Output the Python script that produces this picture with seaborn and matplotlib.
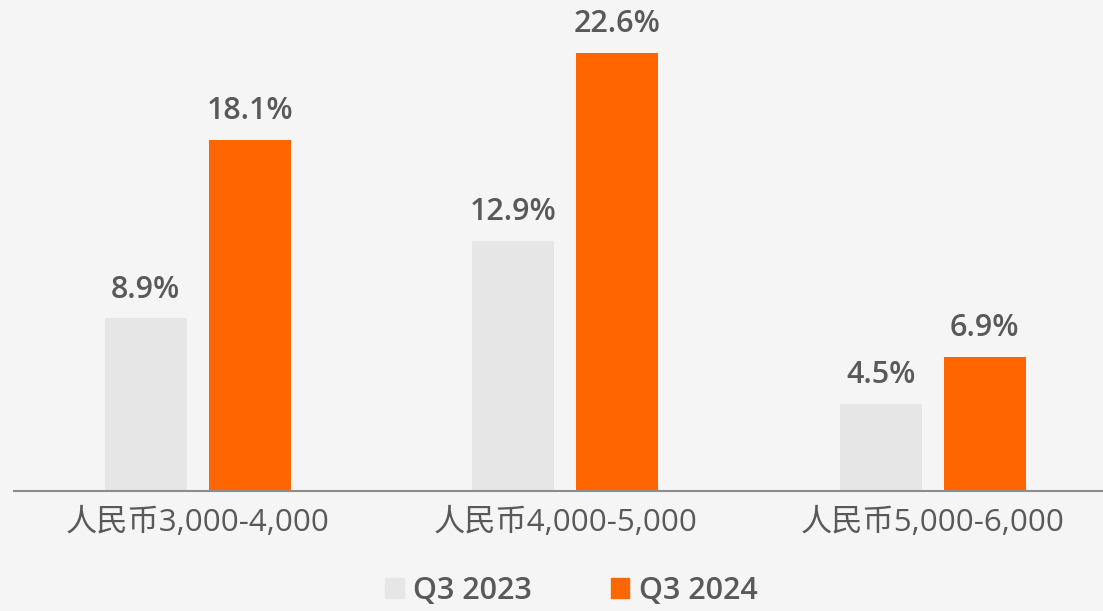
import pandas as pd
import matplotlib.pyplot as plt
import seaborn as sns

# =====================================================
# DATA
# =====================================================

categories = ["人民币3,000-4,000", "人民币4,000-5,000", "人民币5,000-6,000"]
series_names = ["Q3 2023", "Q3 2024"]
q3_2023 = [8.9, 12.9, 4.5]
q3_2024 = [18.1, 22.6, 6.9]

df = pd.DataFrame({
    "range": categories * 2,
    "period": [series_names[0]] * 3 + [series_names[1]] * 3,
    "share": q3_2023 + q3_2024,
})

# =====================================================
# STYLE
# =====================================================

bg = "#f5f5f5"
text_color = "#595959"
palette = {"Q3 2023": "#e6e6e6", "Q3 2024": "#ff6600"}

sns.set_style("white")
plt.rcParams["font.family"] = ["Open Sans", "Noto Sans CJK SC", "DejaVu Sans"]

fig = plt.figure(figsize=(11.03, 6.11), dpi=100, facecolor=bg)
ax = fig.add_axes([14 / 1103, 120 / 611, 1089 / 1103, 491 / 611])
ax.set_facecolor(bg)

sns.barplot(
    data=df,
    x="range",
    y="share",
    hue="period",
    palette=palette,
    saturation=1,
    width=0.566,
    gap=0.212,
    linewidth=0,
    ax=ax,
    legend=False,
)

ax.set_xlim(-0.5, 2.463)
ax.set_ylim(0, 25.33)

for container in ax.containers:
    ax.bar_label(
        container,
        labels=[f"{v:.1f}%" for v in container.datavalues],
        padding=10,
        fontsize=22,
        fontweight="semibold",
        color=text_color,
    )

for side in ["top", "right", "left"]:
    ax.spines[side].set_visible(False)
ax.spines["bottom"].set_color("#8c8c8c")
ax.spines["bottom"].set_linewidth(1.5)

ax.set_yticks([])
ax.set_xlabel("")
ax.set_ylabel("")
ax.tick_params(axis="x", length=0, pad=12, labelcolor=text_color)
for label in ax.get_xticklabels():
    label.set_fontsize(22.5)

# =====================================================
# LEGEND
# =====================================================

handles = [
    plt.Rectangle((0, 0), 1, 1, color=palette[name]) for name in series_names
]
fig.legend(
    handles,
    series_names,
    loc="center",
    bbox_to_anchor=(0.518, 0.033),
    ncol=2,
    frameon=False,
    prop={"size": 22, "weight": "semibold"},
    labelcolor=text_color,
    handlelength=0.6,
    handleheight=0.6,
    handletextpad=0.3,
    columnspacing=2.6,
)

fig.savefig("out.png", dpi=100, facecolor=bg)
